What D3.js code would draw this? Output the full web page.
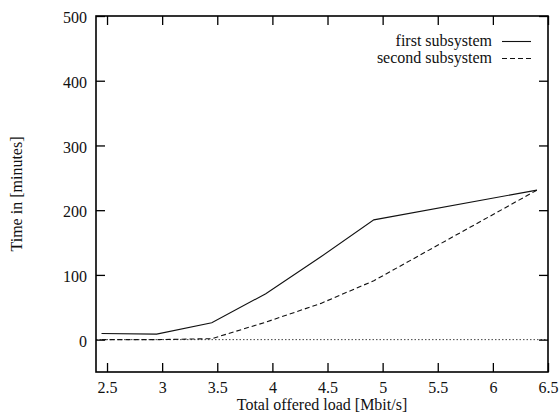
<!DOCTYPE html>
<html>
<head>
<meta charset="utf-8">
<script src="https://cdn.jsdelivr.net/npm/d3@7"></script>
<style>
  html, body { margin: 0; padding: 0; background: #fff; }
</style>
</head>
<body>
<svg id="chart" width="559" height="413"></svg>
<script>
// Offered load (Mbit/s) and time needed by each subsystem (minutes)
const loads = [2.45, 2.95, 3.45, 3.94, 4.44, 4.92, 6.4];
const firstSubsystem = [9.5, 8.5, 26, 71, 128, 185, 231];
const secondSubsystem = [0, 0, 1.5, 27, 56, 91, 231];
const seriesNames = ["first subsystem", "second subsystem"];
const xTicks = [2.5, 3, 3.5, 4, 4.5, 5, 5.5, 6, 6.5];
const yTicks = [0, 100, 200, 300, 400, 500];

const FONT = "'Liberation Serif', 'Times New Roman', Times, serif";
const svg = d3.select("#chart");
const plotL = 96, plotR = 548, plotT = 16, plotB = 372;

const x = d3.scaleLinear().domain([2.4, 6.5]).range([plotL, plotR]);
const y = d3.scaleLinear().domain([-50, 500]).range([plotB, plotT]);

const tickLen = 9;
const fmt = d => String(d);

// zero reference line
svg.append("line")
  .attr("x1", plotL).attr("x2", plotR)
  .attr("y1", y(0)).attr("y2", y(0))
  .attr("stroke", "#444").attr("stroke-width", 1)
  .attr("stroke-dasharray", "1.5,2");

// axes with inward ticks on all four sides
const axB = svg.append("g").attr("transform", `translate(0,${plotB})`)
  .call(d3.axisBottom(x).tickValues(xTicks).tickFormat(fmt).tickSizeInner(-tickLen).tickSizeOuter(0).tickPadding(10));
const axT = svg.append("g").attr("transform", `translate(0,${plotT})`)
  .call(d3.axisTop(x).tickValues(xTicks).tickFormat("").tickSizeInner(-tickLen).tickSizeOuter(0));
const axL = svg.append("g").attr("transform", `translate(${plotL},0)`)
  .call(d3.axisLeft(y).tickValues(yTicks).tickFormat(fmt).tickSizeInner(-tickLen).tickSizeOuter(0).tickPadding(9));
const axR = svg.append("g").attr("transform", `translate(${plotR},0)`)
  .call(d3.axisRight(y).tickValues(yTicks).tickFormat("").tickSizeInner(-tickLen).tickSizeOuter(0));

[axB, axT, axL, axR].forEach(g => {
  g.attr("font-family", FONT).attr("font-size", 16);
  g.select(".domain").remove();
  g.selectAll(".tick line").attr("stroke", "#000").attr("stroke-width", 1.3);
  g.selectAll(".tick text").style("font-family", FONT).style("font-size", "16px").attr("fill", "#111");
});
axB.selectAll(".tick text").attr("dy", null).attr("y", 21);
axL.selectAll(".tick text").attr("dy", "0.36em").attr("y", 1);

// plot frame
svg.append("rect")
  .attr("x", plotL).attr("y", plotT)
  .attr("width", plotR - plotL).attr("height", plotB - plotT)
  .attr("fill", "none").attr("stroke", "#000").attr("stroke-width", 1.6);

// data lines
const line = d3.line().x(d => x(d[0])).y(d => y(d[1]));
const series = [
  { values: firstSubsystem, dash: null },
  { values: secondSubsystem, dash: "5,3" }
];
series.forEach(s => {
  svg.append("path")
    .datum(loads.map((l, i) => [l, s.values[i]]))
    .attr("d", line)
    .attr("fill", "none")
    .attr("stroke", "#111")
    .attr("stroke-width", 1.1)
    .attr("stroke-dasharray", s.dash);
});

// text helper with the serif face
function label(sel) {
  return sel.style("font-family", FONT).style("font-size", "16px").attr("fill", "#111");
}

// legend
const legend = svg.append("g");
seriesNames.forEach((name, i) => {
  const ly = 41.5 + i * 17;
  label(legend.append("text"))
    .attr("x", 492).attr("y", ly + 4.5)
    .attr("text-anchor", "end")
    .text(name);
  legend.append("line")
    .attr("x1", 502).attr("x2", 531)
    .attr("y1", ly).attr("y2", ly)
    .attr("stroke", "#111").attr("stroke-width", 1.1)
    .attr("stroke-dasharray", series[i].dash);
});

// axis titles
label(svg.append("text"))
  .attr("x", (plotL + plotR) / 2).attr("y", 410)
  .attr("text-anchor", "middle")
  .text("Total offered load [Mbit/s]");
label(svg.append("text"))
  .attr("transform", `translate(22,${(plotT + plotB) / 2}) rotate(-90)`)
  .attr("text-anchor", "middle")
  .text("Time in [minutes]");
</script>
</body>
</html>
